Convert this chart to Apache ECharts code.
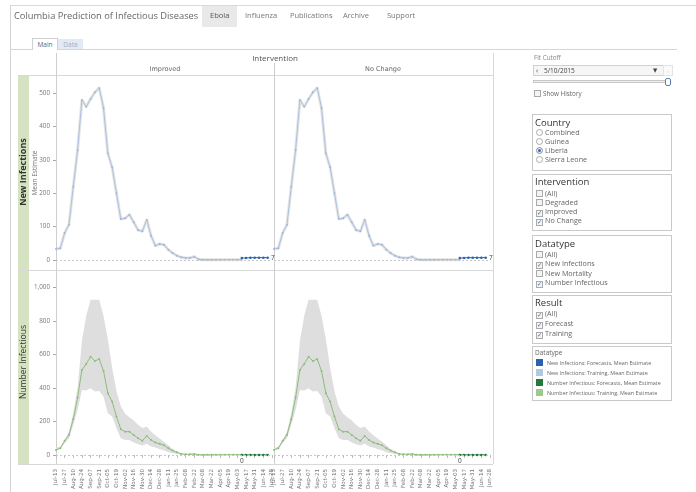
<!DOCTYPE html>
<html>
<head>
<meta charset="utf-8">
<script src="https://cdn.jsdelivr.net/npm/echarts@6/dist/echarts.min.js"></script>
<style>
    body {margin: 0; width: 696px; height: 492px; overflow: hidden; background: #fff; position: relative;
        font-family: "Open Sans", "DejaVu Sans", sans-serif;}
    #chart {position: absolute; left: 0; top: 0; width: 696px; height: 492px;}
    .a {position: absolute; white-space: nowrap;}
    .nav {top: 10px; font-size: 7.5px; color: #777;}
    .box {position: absolute; left: 532px; width: 138px; border: 1px solid #c9c9c9; background: #fff;}
    .ttl {position: absolute; left: 2px; font-size: 9.5px; color: #333; line-height: 10px;}
    .opt {position: absolute; left: 3px; font-size: 7.2px; color: #666; line-height: 8px; white-space: nowrap;}
    .cb, .rb {display: inline-block; width: 5px; height: 5px; border: 1px solid #aaa; vertical-align: -1px;
        margin-right: 2px; background: #f4f4f4; position: relative; font-size: 6px; line-height: 5px;
        color: #2f62b0; text-align: center; overflow: visible;}
    .rb {border-radius: 50%; background: #fff;}
    .rb.on {background: #2f62b0; box-shadow: inset 0 0 0 1px #fff;}
    .sw {display: inline-block; width: 7px; height: 7px; margin-right: 4px; vertical-align: -1px;}
    .lg {position: absolute; left: 3px; font-size: 5.4px; color: #666; line-height: 8px; white-space: nowrap;}
</style>
</head>
<body>
<div id="chart"></div>

<!-- header -->
<div class="a" style="left:10px;top:5px;width:686px;border-top:1px solid #dadada;"></div>
<div class="a" style="left:10px;top:5px;height:487px;border-left:1px solid #d4d4d4;"></div>
<div class="a" style="left:202px;top:6px;width:35px;height:21px;background:#e9e9e9;"></div>
<div class="a" style="left:14px;top:9px;font-size:9.3px;color:#666;">Columbia Prediction of Infectious Diseases</div>
<div class="a nav" style="left:210px;color:#555;">Ebola</div>
<div class="a nav" style="left:245px;">Influenza</div>
<div class="a nav" style="left:290px;">Publications</div>
<div class="a nav" style="left:343px;">Archive</div>
<div class="a nav" style="left:387px;">Support</div>

<!-- tabs -->
<div class="a" style="left:11px;top:49px;width:666px;border-top:1px solid #d6d6d6;"></div>
<div class="a" style="left:32px;top:38px;width:24px;height:11px;border:1px solid #d0d0d0;border-bottom:none;background:#fff;font-size:6.5px;color:#666;text-align:center;line-height:12px;">Main</div>
<div class="a" style="left:58px;top:39px;width:25px;height:10px;background:#e3eaf3;font-size:6.5px;color:#9fb0c6;text-align:center;line-height:11px;">Data</div>

<!-- side panel -->
<div class="a" style="left:534px;top:53px;font-size:6.3px;color:#888;">Fit Cutoff</div>
<div class="a" style="left:533px;top:65px;width:129px;height:9px;border:1px solid #d0d0d0;background:#f6f6f6;"></div>
<div class="a" style="left:536px;top:65px;font-size:7px;color:#333;line-height:11px;">&lsaquo;</div>
<div class="a" style="left:544px;top:65px;font-size:6.5px;color:#444;line-height:11px;">5/10/2015</div>
<div class="a" style="left:653px;top:65px;font-size:5.5px;color:#444;line-height:11px;">&#9660;</div>
<div class="a" style="left:663px;top:65px;width:8px;height:9px;border:1px solid #e4e4e4;background:#fafafa;font-size:6px;color:#ccc;text-align:center;line-height:10px;">&rsaquo;</div>
<div class="a" style="left:533px;top:80px;width:133px;height:1px;border:1px solid #c8c8c8;background:#eee;"></div>
<div class="a" style="left:665px;top:78px;width:4px;height:6px;border:1px solid #5a7fb5;border-radius:2px;background:#fff;"></div>
<div class="a" style="left:534px;top:90px;font-size:6.3px;color:#666;line-height:8px;"><span class="cb"></span>Show History</div>

<div class="box" style="top:114px;height:55px;">
    <div class="ttl" style="top:3px;">Country</div>
    <div class="opt" style="top:13px;"><span class="rb"></span>Combined</div>
    <div class="opt" style="top:22px;"><span class="rb"></span>Guinea</div>
    <div class="opt" style="top:31px;"><span class="rb on"></span>Liberia</div>
    <div class="opt" style="top:40px;"><span class="rb"></span>Sierra Leone</div>
</div>
<div class="box" style="top:174px;height:55px;">
    <div class="ttl" style="top:2px;">Intervention</div>
    <div class="opt" style="top:14px;"><span class="cb"></span>(All)</div>
    <div class="opt" style="top:23px;"><span class="cb"></span>Degraded</div>
    <div class="opt" style="top:32px;"><span class="cb">&#10003;</span>Improved</div>
    <div class="opt" style="top:41px;"><span class="cb">&#10003;</span>No Change</div>
</div>
<div class="box" style="top:235px;height:56px;">
    <div class="ttl" style="top:3px;">Datatype</div>
    <div class="opt" style="top:14px;"><span class="cb"></span>(All)</div>
    <div class="opt" style="top:23px;"><span class="cb">&#10003;</span>New Infections</div>
    <div class="opt" style="top:33px;"><span class="cb"></span>New Mortality</div>
    <div class="opt" style="top:42px;"><span class="cb">&#10003;</span>Number Infectious</div>
</div>
<div class="box" style="top:295px;height:47px;">
    <div class="ttl" style="top:2px;">Result</div>
    <div class="opt" style="top:13px;"><span class="cb">&#10003;</span>(All)</div>
    <div class="opt" style="top:23px;"><span class="cb">&#10003;</span>Forecast</div>
    <div class="opt" style="top:33px;"><span class="cb">&#10003;</span>Training</div>
</div>
<div class="box" style="top:346px;height:53px;">
    <div class="lg" style="top:2px;font-size:6.5px;left:2px;">Datatype</div>
    <div class="lg" style="top:12px;"><span class="sw" style="background:#2a62ad;"></span>New Infections: Forecasts, Mean Estimate</div>
    <div class="lg" style="top:22px;"><span class="sw" style="background:#b2c8e5;"></span>New Infections: Training, Mean Estimate</div>
    <div class="lg" style="top:32px;"><span class="sw" style="background:#23793a;"></span>Number Infectious: Forecasts, Mean Estimate</div>
    <div class="lg" style="top:42px;"><span class="sw" style="background:#9dc98f;"></span>Number Infectious: Training, Mean Estimate</div>
</div>

<script>
    var weeks = ['Jul-13', 'Jul-20', 'Jul-27', 'Aug-03', 'Aug-10', 'Aug-17', 'Aug-24', 'Aug-31', 'Sep-07', 'Sep-14',
        'Sep-21', 'Sep-28', 'Oct-05', 'Oct-12', 'Oct-19', 'Oct-26', 'Nov-02', 'Nov-09', 'Nov-16', 'Nov-23',
        'Nov-30', 'Dec-07', 'Dec-14', 'Dec-21', 'Dec-28', 'Jan-04', 'Jan-11', 'Jan-18', 'Jan-25', 'Feb-01',
        'Feb-08', 'Feb-15', 'Feb-22', 'Mar-01', 'Mar-08', 'Mar-15', 'Mar-22', 'Mar-29', 'Apr-05', 'Apr-12',
        'Apr-19', 'Apr-26', 'May-03', 'May-10', 'May-17', 'May-24', 'May-31', 'Jun-07', 'Jun-14', 'Jun-21', 'Jun-28'];
    var interventions = ['Improved', 'No Change'];

    // training runs up to the fit cutoff (May-10), forecasts start there
    var cutoffIndex = 43;
    var newInfTrain = [33, 35, 81, 106, 220, 330, 480, 460, 483, 503, 516, 456, 320, 278, 200, 123, 125, 136, 113, 90,
        86, 121, 73, 43, 48, 46, 31, 21, 13, 8, 6, 6, 10, 2, 1, 1, 1, 1, 1, 1, 1, 1, 1, 1];
    var newInfFcst = [6, 6, 7, 7, 7, 7, 7];
    var numInfTrain = [30, 40, 84, 119, 213, 342, 507, 543, 586, 560, 572, 501, 368, 318, 229, 153, 139, 139, 119, 99,
        85, 113, 89, 74, 66, 58, 40, 26, 16, 6, 4, 4, 6, 1, 1, 1, 1, 1, 1, 1, 1, 1, 1, 1];
    var numInfLow = [26, 35, 70, 100, 179, 268, 388, 384, 398, 378, 382, 348, 248, 229, 159, 99, 89, 89, 74, 64,
        56, 66, 50, 44, 34, 28, 16, 10, 5, 2, 1, 1, 1, 0, 0, 0, 0, 0, 0, 0, 0, 0, 0, 0];
    var numInfHigh = [40, 50, 90, 140, 250, 400, 680, 830, 925, 925, 925, 830, 690, 520, 380, 290, 245, 225, 205, 180,
        160, 170, 140, 118, 98, 78, 58, 36, 20, 10, 6, 5, 7, 2, 1, 1, 1, 1, 1, 1, 1, 1, 1, 1];
    var numInfFcst = [0, 0, 0, 0, 0, 0, 0];
    var yTicksTop = [0, 100, 200, 300, 400, 500];
    var yTicksBottom = [0, 200, 400, 600, 800, 1000];

    var chart = echarts.init(document.getElementById('chart'));

    function fcstData(arr, lastLabel, firstLabel) {
        var out = [];
        for (var i = 0; i < cutoffIndex; i++) out.push(null);
        for (var j = 0; j < arr.length; j++) {
            var item = {value: arr[j]};
            if (lastLabel && j === arr.length - 1) {
                item.label = {show: true, position: 'right', distance: 2, formatter: lastLabel, fontSize: 6.5, color: '#444'};
            }
            if (firstLabel && j === 0) {
                item.label = {show: true, position: 'bottom', distance: 1, formatter: firstLabel, fontSize: 6.5, color: '#444'};
            }
            out.push(item);
        }
        return out;
    }

    function bandDiff() {
        var d = [];
        for (var i = 0; i < numInfHigh.length; i++) d.push(numInfHigh[i] - numInfLow[i]);
        return d;
    }

    var zeroLine = {
        silent: true,
        symbol: ['none', 'none'],
        label: {show: false},
        lineStyle: {type: [2, 2], color: '#c8c8c8', width: 1},
        data: [{yAxis: 0}]
    };

    var grids = [], xAxes = [], yAxes = [], series = [];
    var lefts = [56, 274];
    for (var c = 0; c < 2; c++) {
        grids.push({left: lefts[c], top: 75, width: 216, height: 195, outerBoundsMode: 'none'});
    }
    for (var c2 = 0; c2 < 2; c2++) {
        grids.push({left: lefts[c2], top: 270, width: 216, height: 195, outerBoundsMode: 'none'});
    }

    for (var g = 0; g < 4; g++) {
        var isBottom = g >= 2;
        var isLeft = g % 2 === 0;
        xAxes.push({
            type: 'category', gridIndex: g, data: weeks, boundaryGap: false,
            axisLine: {show: false},
            axisTick: {show: isBottom, interval: 1, length: 3, lineStyle: {color: '#bbb'}},
            axisLabel: {show: isBottom, interval: 1, rotate: 90, fontSize: 5.6, color: '#777', margin: 4,
                fontFamily: 'DejaVu Sans'},
            splitLine: {show: false}
        });
        var ticks = isBottom ? yTicksBottom : yTicksTop;
        yAxes.push({
            type: 'value', gridIndex: g,
            min: isBottom ? -60 : -30, max: isBottom ? 1103 : 555,
            axisLine: {show: false},
            axisTick: {show: isLeft, length: 3, customValues: ticks, lineStyle: {color: '#aaa'}},
            axisLabel: {show: isLeft, customValues: ticks, fontSize: 6.3, color: '#777', margin: 6,
                formatter: function (v) { return v >= 1000 ? '1,000' : String(v); }},
            splitLine: {show: false}
        });
    }

    for (var p = 0; p < 2; p++) {
        // New Infections row
        series.push({
            name: interventions[p] + ' band', type: 'line', xAxisIndex: p, yAxisIndex: p, data: newInfTrain,
            symbol: 'none', silent: true, z: 1, clip: false,
            lineStyle: {width: 3, color: 'rgba(170,170,170,0.32)'}
        });
        series.push({
            name: 'New Infections: Training, Mean Estimate', type: 'line', xAxisIndex: p, yAxisIndex: p,
            data: newInfTrain, symbol: 'circle', symbolSize: 2, z: 3, clip: false,
            lineStyle: {width: 1, color: '#adc2e0'}, itemStyle: {color: '#a3b9da'},
            markLine: zeroLine
        });
        series.push({
            name: 'New Infections: Forecasts, Mean Estimate', type: 'line', xAxisIndex: p, yAxisIndex: p,
            data: fcstData(newInfFcst, '7'), symbol: 'circle', symbolSize: 2.5, z: 4,
            lineStyle: {width: 1, color: '#2a62ad'}, itemStyle: {color: '#2a62ad'}
        });

        // Number Infectious row
        var gi = p + 2;
        series.push({
            name: 'low', type: 'line', xAxisIndex: gi, yAxisIndex: gi, data: numInfLow, stack: 'band' + p,
            symbol: 'none', silent: true, lineStyle: {opacity: 0}, z: 1
        });
        series.push({
            name: 'high', type: 'line', xAxisIndex: gi, yAxisIndex: gi, data: bandDiff(), stack: 'band' + p,
            symbol: 'none', silent: true, lineStyle: {opacity: 0}, areaStyle: {color: '#dedede', opacity: 1}, z: 1
        });
        series.push({
            name: 'Number Infectious: Training, Mean Estimate', type: 'line', xAxisIndex: gi, yAxisIndex: gi,
            data: numInfTrain, symbol: 'circle', symbolSize: 2, z: 3,
            lineStyle: {width: 1, color: '#8dbd7c'}, itemStyle: {color: '#8dbd7c'},
            markLine: zeroLine
        });
        series.push({
            name: 'Number Infectious: Forecasts, Mean Estimate', type: 'line', xAxisIndex: gi, yAxisIndex: gi,
            data: fcstData(numInfFcst, null, '0'), symbol: 'circle', symbolSize: 2.5, z: 4,
            lineStyle: {width: 1, color: '#23793a'}, itemStyle: {color: '#23793a'}
        });
    }

    function hline(x1, x2, y, col) {
        return {type: 'line', silent: true, shape: {x1: x1, y1: y + 0.5, x2: x2, y2: y + 0.5},
            style: {stroke: col || '#d8d8d8', lineWidth: 1}};
    }
    function vline(x, y1, y2, col) {
        return {type: 'line', silent: true, shape: {x1: x + 0.5, y1: y1, x2: x + 0.5, y2: y2},
            style: {stroke: col || '#d8d8d8', lineWidth: 1}};
    }

    var graphics = [
        {type: 'rect', silent: true, shape: {x: 18, y: 76, width: 11, height: 194}, style: {fill: '#d5e3c2'}},
        {type: 'rect', silent: true, shape: {x: 18, y: 271, width: 11, height: 193}, style: {fill: '#d5e3c2'}},
        hline(18, 493, 75), hline(18, 493, 270), hline(18, 493, 464),
        vline(56, 53, 464, '#cfcfcf'), vline(274, 63, 464, '#cfcfcf'), vline(493, 53, 464),
        {type: 'text', silent: true, x: 23.5, y: 172, rotation: Math.PI / 2,
            style: {text: 'New Infections', fontSize: 9, fontWeight: 'bold', fill: '#333', align: 'center',
                verticalAlign: 'middle', fontFamily: 'Open Sans'}},
        {type: 'text', silent: true, x: 35, y: 173, rotation: Math.PI / 2,
            style: {text: 'Mean Estimate', fontSize: 6.5, fill: '#777', align: 'center', verticalAlign: 'middle',
                fontFamily: 'Open Sans'}},
        {type: 'text', silent: true, x: 23.5, y: 362, rotation: Math.PI / 2,
            style: {text: 'Number Infectious', fontSize: 8.5, fill: '#333', align: 'center', verticalAlign: 'middle',
                fontFamily: 'Open Sans'}},
        {type: 'text', silent: true, x: 275, y: 59,
            style: {text: 'Intervention', fontSize: 8, fill: '#555', align: 'center', verticalAlign: 'middle',
                fontFamily: 'Open Sans'}},
        {type: 'text', silent: true, x: 165, y: 69.5,
            style: {text: interventions[0], fontSize: 6.5, fill: '#666', align: 'center', verticalAlign: 'middle',
                fontFamily: 'DejaVu Sans'}},
        {type: 'text', silent: true, x: 383, y: 69.5,
            style: {text: interventions[1], fontSize: 6.5, fill: '#666', align: 'center', verticalAlign: 'middle',
                fontFamily: 'DejaVu Sans'}}
    ];

    chart.setOption({
        animation: false,
        textStyle: {fontFamily: 'Open Sans'},
        grid: grids,
        xAxis: xAxes,
        yAxis: yAxes,
        series: series,
        graphic: graphics
    });
</script>
</body>
</html>
